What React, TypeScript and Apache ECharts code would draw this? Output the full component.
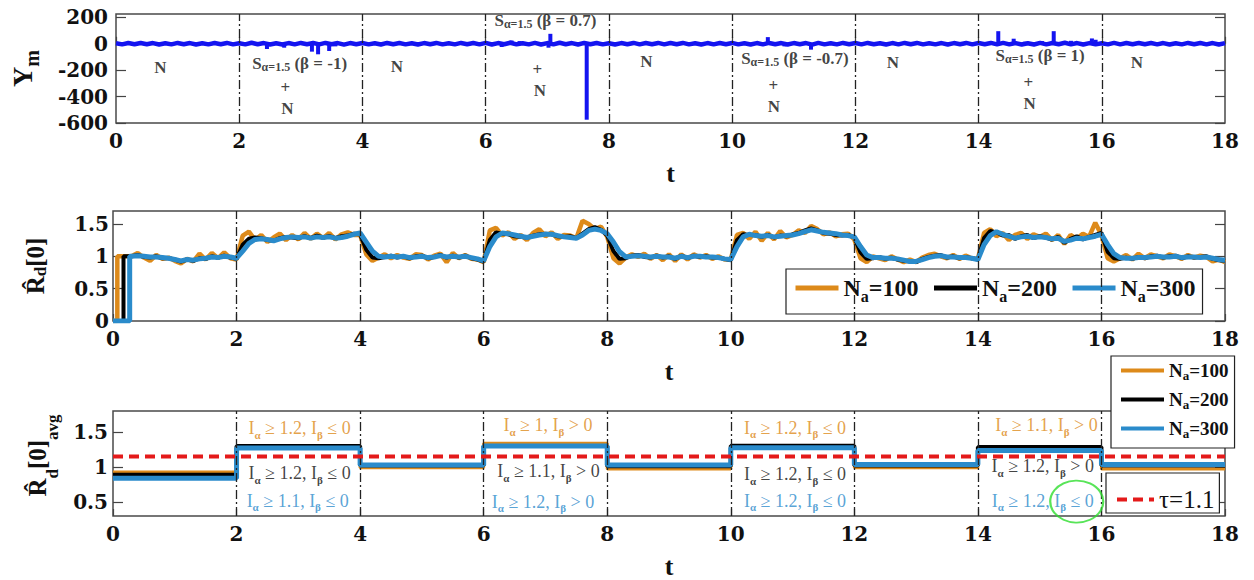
import React, { useEffect, useRef } from 'react';
import * as echarts from 'echarts';

const SERIF = '"Liberation Serif", "Times New Roman", Times, serif';
const TICK_FONT = '"DejaVu Serif", "Liberation Serif", serif';

const C_ORANGE = '#DD8A1A';
const C_BLACK = '#000000';
const C_BLUE = '#2A8BCB';
const C_SIG = '#1414F0';
const C_RED = '#E41A1A';

const T_MIN = 0;
const T_MAX = 18;
const T_INTERVAL = 2;
const boundaryT = [2, 4, 6, 8, 10, 12, 14, 16];

// ---------- Panel 1 : Y_m ----------
const ymStep = 0.1;
const ymNoise = [
  4, -5, 5, -4, 6, -4, 5, -6, 4, -5,
  6, -4, 5, -6, 4, -5, 5, -4, 6, -5,
  4, -5, 7, -4, 5, -6, 4, -6, 5, -5,
  6, -4, 5, -5, 6, -4, 5, -7, 5, -4,
  5, -5, 4, -6, 6, -4, 5, -5, 4, -6,
  5, -4, 6, -5, 4, -5, 6, -4, 5, -5,
  6, -6, 5, -4, 7, -5, 4, -5, 6, -6,
  5, -5, 7, -4, 5, -6, 6, -4, 5, -5,
  4, -6, 5, -4, 6, -5, 5, -4, 6, -5,
  5, -4, 6, -5, 4, -6, 5, -5, 5, -4,
  6, -5, 4, -6, 5, -5, 6, -4, 5, -6,
  5, -4, 5, -7, 6, -5, 4, -5, 6, -4,
  5, -5, 6, -4, 4, -6, 5, -5, 6, -4,
  6, -5, 4, -5, 5, -6, 5, -4, 6, -5,
  5, -4, 6, -5, 6, -5, 5, -6, 4, -6,
  6, -5, 5, -4, 7, -5, 5, -6, 5, -5,
  4, -5, 6, -5, 5, -4, 6, -4, 5, -5,
  5, -6, 4, -5, 6, -4, 5, -5, 5, -6,
  5,
];
const ymSpikeT = [2.45, 2.73, 3.18, 3.28, 3.46, 3.56, 6.26, 6.42, 6.55, 7.02, 7.05, 7.64, 10.58, 10.85, 11.28, 14.32, 14.57, 14.75, 15.03, 15.22, 15.5, 15.84, 15.9];
const ymSpikeV = [-40, -30, -60, -80, -55, -20, -25, 25, 20, -30, 75, -575, 50, -20, -45, 95, 38, 15, 20, 95, 22, 40, 30];
const ymTicks = [-600, -400, -200, 0, 200];

// annotations of panel 1
const noteT = [0.72, 2.98, 2.75, 2.78, 4.56, 6.97, 6.84, 6.88, 8.61, 11.02, 10.67, 10.68, 12.61, 15.0, 14.81, 14.83, 16.57];
const noteV = [-177, -149, -330, -488, -171, 176, -194, -352, -134, -111, -315, -473, -141, -88, -292, -451, -141];
const noteKind = ['N', 'S', '+', 'N', 'N', 'S', '+', 'N', 'N', 'S', '+', 'N', 'N', 'S', '+', 'N', 'N'];
const noteBeta = ['', '-1', '', '', '', '0.7', '', '', '', '-0.7', '', '', '', '1', '', '', ''];

// ---------- Panel 2 : R_d[0] ----------
const rdJumpT = [0.07, 0.17, 0.27];
const rdStartT = 0.3;
const rdStepT = 0.1;
const rd100 = [
  1.00, 1.05, 0.98, 0.93, 1.02, 0.96, 0.98,
  0.93, 0.89, 0.96, 0.92, 1.04, 0.95, 1.05, 0.97, 1.06, 0.97,
  0.95, 1.32, 1.38, 1.25, 1.33, 1.22, 1.29, 1.35, 1.25, 1.33,
  1.26, 1.36, 1.27, 1.35, 1.28, 1.36, 1.26, 1.34, 1.37, 1.33,
  1.33, 1.03, 0.93, 0.98, 1.03, 0.97, 1.02, 0.98, 0.96, 1.03,
  1.02, 0.95, 1.01, 1.04, 0.91, 1.05, 0.97, 1.02, 0.96, 0.95,
  0.91, 1.40, 1.44, 1.32, 1.37, 1.27, 1.33, 1.25, 1.36, 1.42,
  1.31, 1.37, 1.27, 1.33, 1.32, 1.28, 1.55, 1.50, 1.42, 1.46,
  1.30, 0.97, 0.89, 0.98, 1.03, 0.99, 1.04, 0.96, 1.02, 0.94,
  1.03, 0.93, 1.03, 0.95, 1.03, 0.98, 1.02, 0.96, 1.00, 0.95,
  0.95, 1.33, 1.36, 1.27, 1.38, 1.24, 1.36, 1.26, 1.39, 1.29,
  1.33, 1.40, 1.36, 1.47, 1.42, 1.34, 1.37, 1.31, 1.34, 1.35,
  1.26, 0.97, 0.91, 1.00, 0.97, 0.94, 1.00, 0.95, 0.91, 0.95,
  0.91, 0.98, 1.02, 1.04, 1.00, 0.97, 1.02, 0.96, 1.01, 0.97,
  0.96, 1.36, 1.42, 1.31, 1.36, 1.25, 1.33, 1.36, 1.27, 1.34,
  1.30, 1.35, 1.25, 1.33, 1.19, 1.33, 1.27, 1.35, 1.30, 1.52,
  1.33, 0.97, 0.92, 0.97, 1.02, 0.95, 1.04, 0.97, 1.03, 1.00,
  0.97, 1.03, 1.00, 0.96, 1.02, 0.98, 1.01, 0.99, 0.92, 0.95,
  0.91,
];
const rd200 = [
  1.00, 1.02, 0.99, 0.98, 1.00, 0.97, 0.97,
  0.95, 0.92, 0.95, 0.93, 0.97, 0.96, 1.00, 0.98, 1.01, 0.98,
  0.96, 1.18, 1.27, 1.29, 1.28, 1.25, 1.24, 1.28, 1.30, 1.29,
  1.28, 1.31, 1.28, 1.32, 1.29, 1.31, 1.28, 1.31, 1.32, 1.35,
  1.34, 1.10, 0.98, 0.97, 0.99, 1.01, 0.98, 1.00, 0.97, 1.00,
  1.01, 0.97, 0.99, 1.02, 0.98, 1.01, 0.98, 1.01, 0.97, 0.95,
  0.92, 1.25, 1.37, 1.35, 1.34, 1.31, 1.30, 1.29, 1.32, 1.34,
  1.35, 1.34, 1.31, 1.30, 1.31, 1.28, 1.35, 1.42, 1.45, 1.41,
  1.32, 1.08, 0.96, 0.97, 1.01, 1.02, 0.99, 0.98, 1.01, 0.98,
  1.00, 0.96, 1.01, 0.97, 1.01, 0.99, 1.00, 0.98, 0.98, 0.96,
  0.94, 1.25, 1.34, 1.33, 1.33, 1.30, 1.33, 1.29, 1.32, 1.31,
  1.34, 1.36, 1.40, 1.43, 1.40, 1.36, 1.35, 1.33, 1.32, 1.33,
  1.29, 1.06, 0.96, 0.97, 0.99, 0.96, 0.98, 0.95, 0.93, 0.92,
  0.91, 0.96, 0.99, 1.01, 1.02, 0.98, 1.00, 0.97, 0.99, 0.97,
  0.95, 1.28, 1.39, 1.37, 1.32, 1.33, 1.27, 1.31, 1.33, 1.28,
  1.31, 1.29, 1.26, 1.30, 1.21, 1.27, 1.31, 1.26, 1.30, 1.33,
  1.36, 1.07, 0.97, 0.96, 0.98, 0.96, 0.99, 0.97, 1.00, 1.01,
  0.98, 1.00, 1.01, 0.97, 1.00, 0.98, 0.99, 1.00, 0.96, 0.94,
  0.93,
];
const rd300 = [
  1.00, 1.01, 1.00, 0.99, 0.99, 0.98, 0.97,
  0.95, 0.93, 0.95, 0.94, 0.96, 0.97, 0.99, 0.98, 1.00, 0.99,
  0.97, 1.08, 1.20, 1.26, 1.27, 1.26, 1.24, 1.27, 1.29, 1.30,
  1.29, 1.30, 1.28, 1.30, 1.29, 1.30, 1.28, 1.29, 1.31, 1.34,
  1.36, 1.22, 1.08, 1.00, 0.99, 1.00, 0.99, 1.00, 0.98, 0.99,
  1.00, 0.98, 0.99, 1.01, 0.99, 1.00, 0.99, 1.00, 0.98, 0.96,
  0.93, 1.15, 1.30, 1.36, 1.35, 1.33, 1.31, 1.29, 1.31, 1.33,
  1.34, 1.34, 1.32, 1.30, 1.29, 1.28, 1.33, 1.40, 1.42, 1.40,
  1.35, 1.22, 1.07, 0.99, 1.00, 1.01, 1.00, 0.99, 1.00, 0.99,
  0.99, 0.97, 1.00, 0.98, 1.00, 1.00, 0.99, 0.99, 0.98, 0.96,
  0.95, 1.15, 1.30, 1.34, 1.32, 1.31, 1.32, 1.30, 1.31, 1.32,
  1.33, 1.35, 1.38, 1.41, 1.39, 1.37, 1.36, 1.35, 1.33, 1.32,
  1.30, 1.15, 1.02, 0.98, 0.98, 0.97, 0.97, 0.96, 0.94, 0.92,
  0.92, 0.95, 0.98, 1.00, 1.01, 0.99, 0.99, 0.98, 0.98, 0.97,
  0.95, 1.18, 1.32, 1.38, 1.34, 1.31, 1.28, 1.30, 1.31, 1.29,
  1.30, 1.29, 1.27, 1.28, 1.23, 1.25, 1.28, 1.27, 1.29, 1.31,
  1.34, 1.18, 1.04, 0.98, 0.97, 0.97, 0.98, 0.98, 0.99, 1.00,
  0.99, 0.99, 1.00, 0.98, 0.99, 0.99, 0.98, 0.99, 0.97, 0.95,
  0.94,
];
const rdTicks = [0, 0.5, 1, 1.5];

// ---------- Panel 3 : R_d[0]_avg ----------
const segStartT = [0, 2, 4, 6, 8, 10, 12, 14, 16];
const avg100 = [0.93, 1.27, 0.99, 1.34, 0.97, 1.27, 0.99, 1.27, 0.97];
const avg200 = [0.89, 1.30, 1.02, 1.30, 1.01, 1.305, 1.02, 1.285, 1.02];
const avg300 = [0.84, 1.27, 1.03, 1.30, 1.03, 1.275, 1.035, 1.235, 1.035];
const tauLevel = 1.15;
const avgTicks = [0.5, 1, 1.5];

const condT = [3.02, 3.02, 2.99, 7.04, 7.05, 6.96, 11.04, 11.04, 11.04, 15.11, 15.05, 15.05];
const condY = [1.556, 0.909, 0.516, 1.6, 0.936, 0.506, 1.56, 0.9, 0.516, 1.6, 1.014, 0.516];
const condAlpha = ['1.2', '1.2', '1.1', '1', '1.1', '1.2', '1.2', '1.2', '1.2', '1.1', '1.2', '1.2'];
const condBeta = ['≤ 0', '≤ 0', '≤ 0', '> 0', '> 0', '> 0', '≤ 0', '≤ 0', '≤ 0', '> 0', '> 0', '≤ 0'];
const condWho = [0, 1, 2, 0, 1, 2, 0, 1, 2, 0, 1, 2];
const condColors = ['#DD8A1A', '#111111', '#2E8BCB'];
const circleT = [15.6];
const circleY = [0.506];

const NAMES = ['N_a=100', 'N_a=200', 'N_a=300'];
const TAU_NAME = 'τ=1.1';

function buildOption(): any {
  const dashDot = { color: '#222', width: 1.3, type: [9, 3, 2, 3] };
  const vLines = {
    silent: true,
    symbol: ['none', 'none'],
    label: { show: false },
    emphasis: { disabled: true },
    lineStyle: dashDot,
    data: boundaryT.map((t) => ({ xAxis: t })),
  };

  const grids = [
    { left: 113, top: 14, width: 1112, height: 109 },
    { left: 113, top: 211, width: 1112, height: 110 },
    { left: 113, top: 411, width: 1112, height: 110 },
  ].map((g) => ({ ...g, show: true, borderColor: '#4a4a4a', borderWidth: 1.5, backgroundColor: 'transparent' }));

  const xAxes = [0, 1, 2].map((gi) => ({
    type: 'value',
    gridIndex: gi,
    min: T_MIN,
    max: T_MAX,
    interval: T_INTERVAL,
    axisLine: { show: false },
    splitLine: { show: false },
    axisTick: { show: true, inside: true, length: 7, lineStyle: { color: '#444', width: 1.2 } },
    axisLabel: { margin: 8, fontFamily: TICK_FONT, fontWeight: 'bold', fontSize: 20, color: '#111' },
    name: 't',
    nameLocation: 'middle',
    nameGap: 37,
    nameTextStyle: { fontFamily: SERIF, fontWeight: 'bold', fontSize: 26, color: '#111' },
  }));

  const nameRichBase = { fontFamily: SERIF, fontWeight: 'bold', color: '#111' };
  const yLeft = (gi: number, min: number, max: number, ticks: number[], margin: number, name: string, nameGap: number, rich: any, padding: number[]) => ({
    type: 'value',
    gridIndex: gi,
    position: 'left',
    min,
    max,
    axisLine: { show: false },
    splitLine: { show: false },
    axisTick: { show: true, inside: true, length: 10, customValues: ticks, lineStyle: { color: '#444', width: 1.2 } },
    axisLabel: { customValues: ticks, margin, fontFamily: TICK_FONT, fontWeight: 'bold', fontSize: 20, color: '#111' },
    name,
    nameLocation: 'middle',
    nameRotate: 90,
    nameGap,
    nameTextStyle: { ...nameRichBase, padding, rich },
  });
  const yRight = (gi: number, min: number, max: number, ticks: number[]) => ({
    type: 'value',
    gridIndex: gi,
    position: 'right',
    min,
    max,
    axisLine: { show: false },
    splitLine: { show: false },
    axisTick: { show: true, inside: true, length: 10, customValues: ticks, lineStyle: { color: '#444', width: 1.2 } },
    axisLabel: { show: false },
  });

  const yAxes = [
    yLeft(0, -600, 225, ymTicks, 8, '{m|Y}{s|m}', 74, {
      m: { ...nameRichBase, fontSize: 28, lineHeight: 40 },
      s: { ...nameRichBase, fontSize: 20, lineHeight: 3, verticalAlign: 'bottom' },
    }, [0, 0, 0, 0]),
    yLeft(1, 0, 1.7, rdTicks, 4, '{m|R\u0302}{s|d}{m|[0]}', 64, {
      m: { ...nameRichBase, fontSize: 25, lineHeight: 28 },
      s: { ...nameRichBase, fontSize: 17, lineHeight: 3, verticalAlign: 'bottom' },
    }, [0, 0, 0, 0]),
    yLeft(2, 0.3, 1.8, avgTicks, 5, '{m|R\u0302}{s|d}{m|[0]}{a|avg}', 52, {
      m: { ...nameRichBase, fontSize: 25, lineHeight: 48 },
      s: { ...nameRichBase, fontSize: 17, lineHeight: 24, verticalAlign: 'bottom' },
      a: { ...nameRichBase, fontSize: 17, lineHeight: 4, verticalAlign: 'bottom' },
    }, [0, 0, 0, 16]),
    yRight(0, -600, 225, ymTicks),
    yRight(1, 0, 1.7, rdTicks),
    yRight(2, 0.3, 1.8, avgTicks),
  ];

  const rdData = (jump: number, vals: number[]) => [
    [0, 0],
    [jump, 0],
    [jump, vals[0]],
    ...vals.map((v, i) => [Number((rdStartT + i * rdStepT).toFixed(2)), v]),
  ];
  const stepData = (vals: number[]) => [
    ...segStartT.map((t, i) => [t, vals[i]]),
    [T_MAX, vals[vals.length - 1]],
  ];

  const noteRich = {
    m: { fontFamily: SERIF, fontWeight: 'bold', fontSize: 17, lineHeight: 20, color: '#111' },
    s: { fontFamily: SERIF, fontWeight: 'bold', fontSize: 12, lineHeight: 2, verticalAlign: 'bottom', color: '#111' },
  };
  const condRich = {
    m: { fontFamily: SERIF, fontSize: 18, lineHeight: 24 },
    s: { fontFamily: SERIF, fontWeight: 'bold', fontSize: 11, lineHeight: 4, verticalAlign: 'bottom' },
  };

  const rdColors = [C_ORANGE, C_BLACK, C_BLUE];
  const rdWidths = [4.5, 4, 5];
  const rdVals = [rd100, rd200, rd300];
  const avgVals = [avg100, avg200, avg300];
  const avgWidths = [3, 4, 5];

  const series: any[] = [
    {
      type: 'line',
      name: 'Ym noise',
      xAxisIndex: 0,
      yAxisIndex: 0,
      data: ymNoise.map((v, i) => [Number((i * ymStep).toFixed(2)), v]),
      symbol: 'none',
      lineStyle: { color: C_SIG, width: 4.5 },
      silent: true,
      markLine: vLines,
      z: 2,
    },
    {
      type: 'bar',
      name: 'Ym spikes',
      xAxisIndex: 0,
      yAxisIndex: 0,
      data: ymSpikeT.map((t, i) => [t, ymSpikeV[i]]),
      barWidth: 4,
      itemStyle: { color: C_SIG },
      silent: true,
      z: 3,
    },
    {
      type: 'scatter',
      name: 'notes',
      xAxisIndex: 0,
      yAxisIndex: 0,
      data: noteT.map((t, i) => [t, noteV[i]]),
      symbolSize: 1,
      itemStyle: { color: 'rgba(0,0,0,0)' },
      silent: true,
      z: 5,
      label: {
        show: true,
        position: 'inside',
        rich: noteRich,
        formatter: (p: any) => {
          const i = p.dataIndex;
          const k = noteKind[i];
          if (k === 'S') return `{m|S}{s|α=1.5}{m| (β = ${noteBeta[i]})}`;
          return `{m|${k}}`;
        },
      },
    },
    ...rdVals.map((vals, k) => ({
      type: 'line',
      name: NAMES[k],
      xAxisIndex: 1,
      yAxisIndex: 1,
      data: rdData(rdJumpT[k], vals),
      symbol: 'none',
      showSymbol: false,
      lineStyle: { color: rdColors[k], width: rdWidths[k] },
      itemStyle: { color: rdColors[k] },
      silent: true,
      z: 2 + k,
      ...(k === 0 ? { markLine: vLines } : {}),
    })),
    ...avgVals.map((vals, k) => ({
      type: 'line',
      name: NAMES[k],
      xAxisIndex: 2,
      yAxisIndex: 2,
      step: 'end',
      data: stepData(vals),
      symbol: 'none',
      showSymbol: false,
      lineStyle: { color: rdColors[k], width: avgWidths[k] },
      itemStyle: { color: rdColors[k] },
      silent: true,
      z: 2 + k,
      ...(k === 0 ? { markLine: vLines } : {}),
    })),
    {
      type: 'line',
      name: TAU_NAME,
      xAxisIndex: 2,
      yAxisIndex: 2,
      data: [[T_MIN, tauLevel], [T_MAX, tauLevel]],
      symbol: 'none',
      showSymbol: false,
      lineStyle: { color: C_RED, width: 4, type: [10, 6] },
      itemStyle: { color: C_RED },
      silent: true,
      z: 6,
    },
    {
      type: 'scatter',
      name: 'conditions',
      xAxisIndex: 2,
      yAxisIndex: 2,
      data: condT.map((t, i) => ({
        value: [t, condY[i]],
        label: { color: condColors[condWho[i]] },
      })),
      symbolSize: 1,
      itemStyle: { color: 'rgba(0,0,0,0)' },
      silent: true,
      z: 7,
      label: {
        show: true,
        position: 'inside',
        rich: condRich,
        formatter: (p: any) => {
          const i = p.dataIndex;
          return `{m|I}{s|α}{m| ≥ ${condAlpha[i]}, I}{s|β}{m| ${condBeta[i]}}`;
        },
      },
    },
    {
      type: 'scatter',
      name: 'highlight',
      xAxisIndex: 2,
      yAxisIndex: 2,
      data: circleT.map((t, i) => [t, circleY[i]]),
      symbol: 'circle',
      symbolSize: [53, 42],
      itemStyle: { color: 'rgba(0,0,0,0)', borderColor: '#2EDD2E', borderWidth: 2 },
      silent: true,
      z: 8,
    },
  ];

  return {
    animation: false,
    backgroundColor: '#ffffff',
    grid: grids,
    xAxis: xAxes,
    yAxis: yAxes,
    legend: [
      {
        id: 'lg-rd',
        data: NAMES,
        left: 786,
        top: 269,
        orient: 'horizontal',
        selectedMode: false,
        itemWidth: 43,
        itemHeight: 1,
        itemGap: 13,
        padding: [7, 7, 10, 7],
        borderColor: '#222',
        borderWidth: 1.2,
        lineStyle: { width: 5 },
        formatter: (name: string) => `{n|N}{s|a}{n|${name.slice(3)}}`,
        textStyle: {
          rich: {
            n: { fontFamily: SERIF, fontWeight: 'bold', fontSize: 24, lineHeight: 32, color: '#111' },
            s: { fontFamily: SERIF, fontWeight: 'bold', fontSize: 16, lineHeight: 2, verticalAlign: 'bottom', color: '#111' },
          },
        },
      },
      {
        id: 'lg-avg',
        data: NAMES,
        left: 1111,
        top: 356,
        orient: 'vertical',
        selectedMode: false,
        itemWidth: 43,
        itemHeight: 1,
        itemGap: 8,
        padding: [5, 6, 8, 8],
        backgroundColor: '#ffffff',
        borderColor: '#222',
        borderWidth: 1.2,
        lineStyle: { width: 4 },
        formatter: (name: string) => `{n|N}{s|a}{n|${name.slice(3)}}`,
        textStyle: {
          rich: {
            n: { fontFamily: SERIF, fontWeight: 'bold', fontSize: 19, lineHeight: 23, color: '#111' },
            s: { fontFamily: SERIF, fontWeight: 'bold', fontSize: 13, lineHeight: 4, verticalAlign: 'bottom', color: '#111' },
          },
        },
      },
      {
        id: 'lg-tau',
        data: [TAU_NAME],
        left: 1106,
        top: 473,
        orient: 'vertical',
        selectedMode: false,
        itemWidth: 37,
        itemHeight: 1,
        padding: [14, 5, 1, 9],
        backgroundColor: '#ffffff',
        borderColor: '#222',
        borderWidth: 1.2,
        lineStyle: { width: 4 },
        textStyle: { fontFamily: SERIF, fontSize: 25, lineHeight: 16, color: '#111' },
      },
    ],
    series,
  };
}

export default function App() {
  const ref = useRef<HTMLDivElement>(null);
  useEffect(() => {
    if (!ref.current) return;
    const chart = echarts.init(ref.current, null, { renderer: 'svg' });
    chart.setOption(buildOption());
    return () => chart.dispose();
  }, []);
  return (
    <div
      ref={ref}
      style={{ position: 'absolute', left: 0, top: 0, width: 1254, height: 580, background: '#ffffff' }}
    />
  );
}
